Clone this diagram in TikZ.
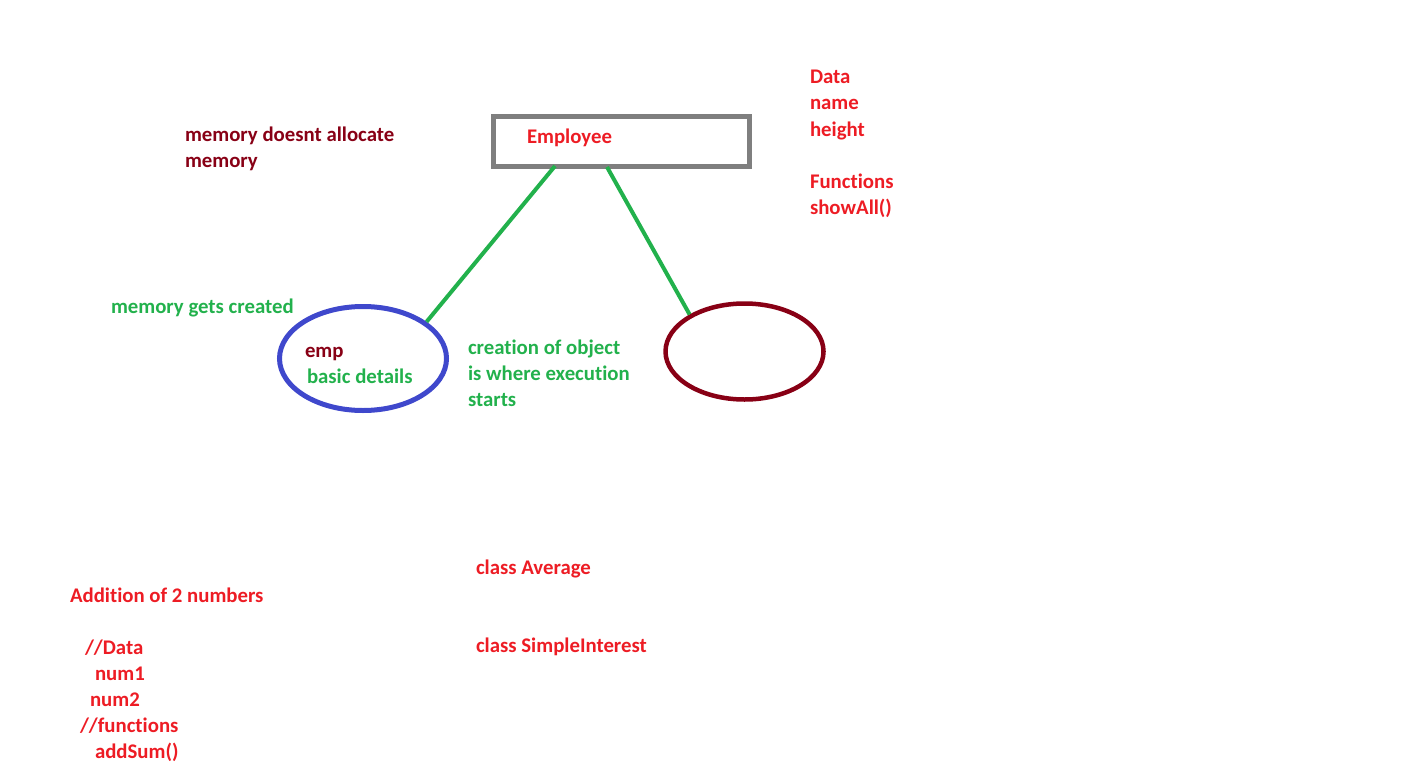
\documentclass[tikz,border=0pt]{standalone}
\usepackage{fontspec}
\setmainfont{Carlito}[Ligatures=NoCommon]
\usetikzlibrary{shapes.geometric}
\definecolor{pred}{RGB}{237,28,36}
\definecolor{pdark}{RGB}{136,0,21}
\definecolor{pgreen}{RGB}{34,177,76}
\definecolor{pblue}{RGB}{63,72,204}
\definecolor{pgray}{RGB}{127,127,127}
\tikzset{
  lbl/.style={anchor=base west, inner sep=0pt, outer sep=0pt, font=\fontsize{20.8}{26}\selectfont\bfseries},
  redtxt/.style={lbl, text=pred},
  darktxt/.style={lbl, text=pdark},
  greentxt/.style={lbl, text=pgreen},
  link/.style={draw=pgreen, line width=4pt},
}
\begin{document}
\begin{tikzpicture}[x=1pt,y=-1pt]
\useasboundingbox (0,0) rectangle (1412,765);
% class box
\node[draw=pgray, line width=4.5pt, minimum width=256pt, minimum height=50pt, inner sep=0pt] (box) at (621.5,141.5) {};
\node[redtxt] (employee) at (527,143) {Employee};
% objects
\node[ellipse, draw=pblue, line width=5pt, minimum width=167pt, minimum height=104pt, inner sep=0pt] (emp) at (363,358.5) {};
\node[ellipse, draw=pdark, line width=4.5pt, minimum width=158pt, minimum height=96pt, inner sep=0pt] (obj) at (744.5,351.5) {};
% connectors
\coordinate (b1) at (555,166);
\coordinate (b2) at (607,167);
\draw[link] (b1) -- (emp.30);
\draw[link] (b2) -- (obj.146);
% texts
\node[darktxt] (t1) at (185,141) {memory doesnt allocate};
\node[darktxt] (t2) at (185,167) {memory};
\node[greentxt] (t3) at (111,313) {memory gets created};
\node[darktxt] (t4) at (305,357) {emp};
\node[greentxt] (t5) at (307,383) {basic details};
\node[greentxt] (t6) at (468,354) {creation of object};
\node[greentxt] (t7) at (468,380) {is where execution};
\node[greentxt] (t8) at (468,406) {starts};
\node[redtxt] (d1) at (810,84) {Data};
\node[redtxt] (d2) at (810,110) {name};
\node[redtxt] (d3) at (810,136) {height};
\node[redtxt] (d4) at (810,188) {Functions};
\node[redtxt] (d5) at (810,214) {showAll()};
\node[redtxt] (c1) at (476,574) {class Average};
\node[redtxt] (c2) at (476,652) {class SimpleInterest};
\node[redtxt] (a1) at (70,602) {Addition of 2 numbers};
\node[redtxt] (a2) at (85,654) {//Data};
\node[redtxt] (a3) at (95,680) {num1};
\node[redtxt] (a4) at (90,706) {num2};
\node[redtxt] (a5) at (80,732) {//functions};
\node[redtxt] (a6) at (95,758) {addSum()};
\end{tikzpicture}
\end{document}
